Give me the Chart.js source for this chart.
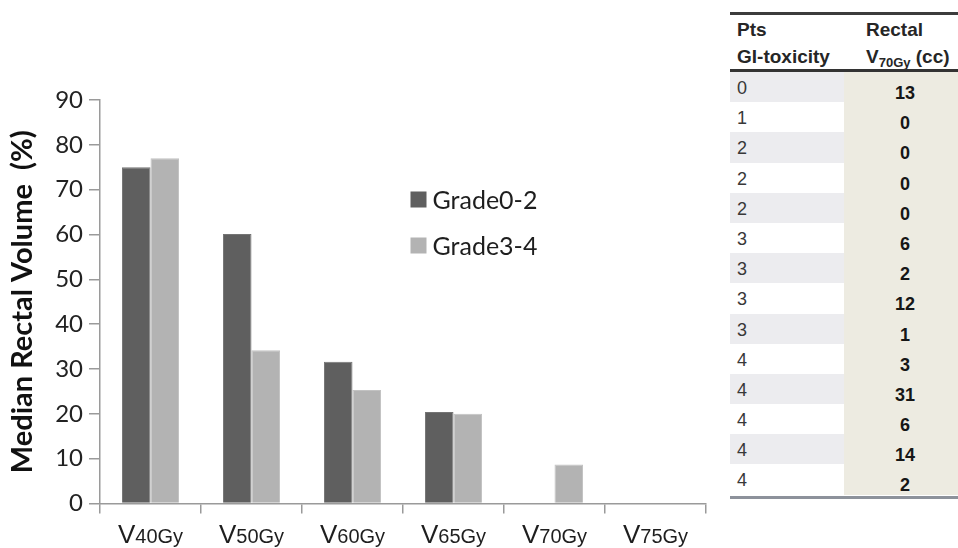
<!DOCTYPE html>
<html>
<head>
<meta charset="utf-8">
<script src="https://cdn.jsdelivr.net/npm/chart.js@4"></script>
<style>
  html, body { margin:0; padding:0; background:#fff; }
  body { width:958px; height:548px; position:relative; overflow:hidden; }
  #wrap { position:absolute; left:0; top:0; width:720px; height:548px; }
  .rule { position:absolute; left:730px; width:228px; z-index:10; }
  #tbl { position:absolute; left:730px; top:14px; width:228px; font-family:"Liberation Sans", Arial, sans-serif; }
  #tbl .head { height:56px; display:flex; }
  #tbl .head div { font-weight:bold; font-size:19px; line-height:27px; color:#262626; padding-top:2px; }
  #tbl .hline { height:2px; }
  #tbl .h1 { width:114px; padding-left:7px; box-sizing:border-box; white-space:nowrap; }
  #tbl .h2 { width:114px; padding-left:22px; box-sizing:border-box; white-space:nowrap; }
  #tbl .h2 sub { font-size:13px; vertical-align:-4px; line-height:0; }
  #tbl .row { display:flex; height:30.2px; }
  #tbl .c1 { width:114px; padding-left:7px; box-sizing:border-box; font-size:18px; line-height:30.2px; color:#383838; }
  #tbl .c1 span { position:relative; top:1px; }
  #tbl .c2 { width:114px; padding-left:8px; box-sizing:border-box; background:#edebe1; text-align:center; font-size:18px; font-weight:bold; line-height:30.2px; color:#161616; }
  #tbl .c2 span { position:relative; top:6px; }
  #tbl .row.s .c1 { background:#ececef; }
</style>
</head>
<body>
<div id="wrap"><canvas id="c" width="720" height="548"></canvas></div>
<div id="tbl"></div>
<div class="rule" style="top:12px;height:3px;background:#3c3c3c;"></div>
<div class="rule" style="top:69px;height:3px;background:#333333;"></div>
<div class="rule" style="top:496px;height:3px;background:#8d929b;"></div>
<script>
// ---- chart data ----
const categories = ['V40Gy', 'V50Gy', 'V60Gy', 'V65Gy', 'V70Gy', 'V75Gy'];
const seriesNames = ['Grade0-2', 'Grade3-4'];
const grade02 = [75, 60.1, 31.6, 20.4, 0, 0];
const grade34 = [77, 34.2, 25.3, 20.0, 8.7, 0];
const yTitle = 'Median Rectal Volume  (%)';
const yMin = 0, yMax = 90, yStep = 10;

// ---- table data ----
const tableHead1 = ['Pts', 'GI-toxicity'];
const tableHead2 = ['Rectal', 'V', '70Gy', ' (cc)'];
const ptsGrade = [0, 1, 2, 2, 2, 3, 3, 3, 3, 4, 4, 4, 4, 4];
const rectalV70 = [13, 0, 0, 0, 0, 6, 2, 12, 1, 3, 31, 6, 14, 2];

const colors = ['#5f5f5f', '#b3b3b3'];
const borderColors = ['#747474', '#c2c2c2'];

// build table
(function () {
  const t = document.getElementById('tbl');
  let h = '';
  h += '<div class="head"><div class="h1">' + tableHead1[0] + '<br>' + tableHead1[1] + '</div>' +
       '<div class="h2">' + tableHead2[0] + '<br>' + tableHead2[1] + '<sub>' + tableHead2[2] + '</sub>' + tableHead2[3] + '</div></div>';
  h += '<div class="hline"></div>';
  ptsGrade.forEach((g, i) => {
    h += '<div class="row' + (i % 2 === 0 ? ' s' : '') + '"><div class="c1"><span>' + g + '</span></div><div class="c2"><span>' + rectalV70[i] + '</span></div></div>';
  });
  t.innerHTML = h;
})();

const xLabelPlugin = {
  id: 'xLabels',
  afterDraw(chart) {
    const xs = chart.scales.x;
    const ctx = chart.ctx;
    ctx.save();
    ctx.fillStyle = '#1e1e1e';
    ctx.textBaseline = 'alphabetic';
    ctx.textAlign = 'left';
    const bigFont = '26px "Liberation Sans", Arial, sans-serif';
    const smallFont = '20px "Liberation Sans", Arial, sans-serif';
    const baseY = xs.bottom - 5;
    categories.forEach((lab, i) => {
      const a = lab.slice(0, 1), b = lab.slice(1);
      ctx.font = bigFont; const wa = ctx.measureText(a).width;
      ctx.font = smallFont; const wb = ctx.measureText(b).width;
      const cx = xs.getPixelForValue(i);
      const x0 = cx - (wa + wb) / 2;
      ctx.font = bigFont; ctx.fillText(a, x0, baseY);
      ctx.font = smallFont; ctx.fillText(b, x0 + wa, baseY);
    });
    ctx.restore();
  }
};

const legendPlugin = {
  id: 'innerLegend',
  afterDraw(chart, args, opts) {
    const ctx = chart.ctx;
    ctx.save();
    ctx.font = '25px Lato, "Open Sans", sans-serif';
    ctx.textBaseline = 'middle';
    ctx.textAlign = 'left';
    chart.data.datasets.forEach((ds, i) => {
      const y = opts.y + i * opts.gap;
      ctx.fillStyle = ds.backgroundColor;
      ctx.fillRect(opts.x, y, opts.box, opts.box);
      ctx.fillStyle = '#1e1e1e';
      ctx.fillText(ds.label, opts.x + opts.box + 6, y + opts.box / 2 + 1);
    });
    ctx.restore();
  }
};

new Chart(document.getElementById('c'), {
  type: 'bar',
  data: {
    labels: categories,
    datasets: [
      { label: seriesNames[0], data: grade02, backgroundColor: colors[0], borderColor: borderColors[0],
        borderWidth: c => (c.raw ? 1 : 0), categoryPercentage: 0.565, barPercentage: 1.0 },
      { label: seriesNames[1], data: grade34, backgroundColor: colors[1], borderColor: borderColors[1],
        borderWidth: c => (c.raw ? 1 : 0), categoryPercentage: 0.565, barPercentage: 1.0 }
    ]
  },
  options: {
    responsive: false,
    animation: false,
    devicePixelRatio: 1,
    layout: { padding: { top: 100, right: 14, left: 0, bottom: 0 } },
    plugins: {
      legend: { display: false },
      tooltip: { enabled: false },
      innerLegend: { x: 410.5, y: 191.5, box: 16, gap: 46 }
    },
    scales: {
      x: {
        ticks: { display: false },
        grid: { display: true, drawOnChartArea: false, drawTicks: true, tickLength: 10, color: '#9a9a9a', lineWidth: 1.5 },
        border: { display: true, color: '#9a9a9a', width: 1.5 },
        afterFit: s => { s.height = 44.5; }
      },
      y: {
        min: yMin, max: yMax,
        ticks: { stepSize: yStep, color: '#222', padding: 6, font: { family: 'Lato, "Open Sans", sans-serif', size: 24 } },
        grid: { display: true, drawOnChartArea: false, drawTicks: true, tickLength: 11, color: '#9a9a9a', lineWidth: 1.5 },
        border: { display: true, color: '#9a9a9a', width: 1.5 },
        title: { display: true, text: yTitle, color: '#111', padding: { top: 5, bottom: 0 },
                 font: { family: 'Lato, "Open Sans", sans-serif', size: 29, weight: 'bold' } },
        afterFit: s => { s.width = 100; }
      }
    }
  },
  plugins: [xLabelPlugin, legendPlugin]
});
</script>
</body>
</html>
